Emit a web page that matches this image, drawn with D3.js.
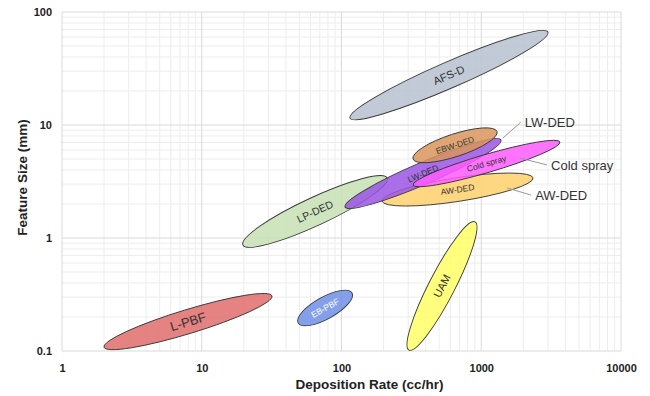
<!DOCTYPE html>
<html>
<head>
<meta charset="utf-8">
<script src="https://cdn.jsdelivr.net/npm/d3@7"></script>
<style>
  body { margin: 0; background: #fff; }
  text { font-family: "Liberation Sans", Arial, sans-serif; }
</style>
</head>
<body>
<div id="chart"></div>
<script>
const W = 650, H = 396;
const margin = { top: 12, right: 29, bottom: 45, left: 62 };

// processes: major-axis tips (deposition rate cc/hr, feature size mm) and half-width in log decades
const names   = ["AFS-D", "L-PBF", "EB-PBF", "UAM", "LP-DED", "AW-DED", "LW-DED", "EBW-DED", "Cold spray"];
const rateLo  = [115,   2.0,   49,    304,   19.7,  195,  106,  325,  325];
const sizeLo  = [11.5,  0.108, 0.177, 0.102, 0.867, 2.12, 1.88, 5.0,  2.94];
const rateHi  = [3000,  31.8,  119,   902,   212,   2346, 1384, 1296, 3660];
const sizeHi  = [66.5,  0.307, 0.326, 1.39,  3.40,  3.40, 7.36, 8.75, 7.07];
const spread  = [0.115, 0.106, 0.097, 0.115, 0.124, 0.105, 0.097, 0.1, 0.08];
const colors  = ["#b6c1cf", "#e06c6c", "#6f8fe6", "#ffff66", "#c6e1b4", "#fdd06c", "#9a55e4", "#d9955c", "#ff5cff"];
const labelSize = [11, 13, 8.5, 11, 10.5, 8.5, 8.5, 8.5, 8.5];
const labelColor = ["#333", "#333", "#fff", "#333", "#333", "#333", "#333", "#333", "#333"];

// call-out labels outside the cluster: [name, anchor rate, anchor size, text rate, text size]
const callouts = [
    ["LW-DED",     1430, 7.67, 2050, 10.6],
    ["Cold spray", 1890, 5.1,  3160, 4.43],
    ["AW-DED",     1530, 2.77, 2430, 2.40]
];

const xTicks = [1, 10, 100, 1000, 10000];
const xTickLabels = ["1", "10", "100", "1000", "10000"];
const yTicks = [0.1, 1, 10, 100];
const yTickLabels = ["0.1", "1", "10", "100"];

const width = W - margin.left - margin.right;
const height = H - margin.top - margin.bottom;

const svg = d3.select("#chart").append("svg")
    .attr("width", W)
    .attr("height", H)
    .append("g")
    .attr("transform", `translate(${margin.left}, ${margin.top})`);

const x = d3.scaleLog().domain([1, 10000]).range([0, width]);
const y = d3.scaleLog().domain([0.1, 100]).range([height, 0]);

// grid
const minorX = x.ticks().filter(v => !xTicks.includes(v));
const minorY = y.ticks().filter(v => !yTicks.includes(v));

svg.selectAll(".gx-minor").data(minorX).enter().append("line")
    .attr("x1", d => x(d)).attr("x2", d => x(d))
    .attr("y1", 0).attr("y2", height)
    .attr("stroke", "#ededed").attr("stroke-width", 1);
svg.selectAll(".gy-minor").data(minorY).enter().append("line")
    .attr("y1", d => y(d)).attr("y2", d => y(d))
    .attr("x1", 0).attr("x2", width)
    .attr("stroke", "#ededed").attr("stroke-width", 1);
svg.selectAll(".gx").data(xTicks).enter().append("line")
    .attr("x1", d => x(d)).attr("x2", d => x(d))
    .attr("y1", 0).attr("y2", height)
    .attr("stroke", "#d9d9d9").attr("stroke-width", 1);
svg.selectAll(".gy").data(yTicks).enter().append("line")
    .attr("y1", d => y(d)).attr("y2", d => y(d))
    .attr("x1", 0).attr("x2", width)
    .attr("stroke", "#d9d9d9").attr("stroke-width", 1);

// axes
const xAxis = svg.append("g")
    .attr("transform", `translate(0, ${height})`)
    .call(d3.axisBottom(x).tickValues(xTicks).tickSize(0).tickPadding(13)
        .tickFormat((d, i) => xTickLabels[i]));
const yAxis = svg.append("g")
    .call(d3.axisLeft(y).tickValues(yTicks).tickSize(0).tickPadding(10)
        .tickFormat((d, i) => yTickLabels[i]));
[xAxis, yAxis].forEach(a => {
    a.select(".domain").remove();
    a.selectAll("text")
        .style("font-family", "'Liberation Sans', Arial, sans-serif")
        .style("font-size", "11px")
        .style("font-weight", "bold")
        .attr("fill", "#222");
});

svg.append("text")
    .attr("x", width / 2 + 28)
    .attr("y", height + 38)
    .attr("text-anchor", "middle")
    .style("font-size", "13.5px")
    .style("font-weight", "bold")
    .attr("fill", "#222")
    .text("Deposition Rate (cc/hr)");

svg.append("text")
    .attr("transform", "rotate(-90)")
    .attr("x", -height / 2 + 4)
    .attr("y", -margin.left + 27)
    .attr("text-anchor", "middle")
    .style("font-size", "13.5px")
    .style("font-weight", "bold")
    .attr("fill", "#222")
    .text("Feature Size (mm)");

// ellipses
const decadePx = y(1) - y(10);
const shapes = names.map((n, i) => {
    const x1 = x(rateLo[i]), y1 = y(sizeLo[i]);
    const x2 = x(rateHi[i]), y2 = y(sizeHi[i]);
    return {
        name: n,
        cx: (x1 + x2) / 2,
        cy: (y1 + y2) / 2,
        rx: Math.hypot(x2 - x1, y2 - y1) / 2,
        ry: spread[i] * decadePx,
        angle: Math.atan2(y2 - y1, x2 - x1) * 180 / Math.PI,
        color: colors[i],
        fs: labelSize[i],
        tc: labelColor[i]
    };
});

svg.selectAll(".blob").data(shapes).enter().append("ellipse")
    .attr("class", "blob")
    .attr("cx", 0).attr("cy", 0)
    .attr("rx", d => d.rx).attr("ry", d => d.ry)
    .attr("transform", d => `translate(${d.cx}, ${d.cy}) rotate(${d.angle})`)
    .attr("fill", d => d.color)
    .attr("fill-opacity", 0.85)
    .attr("stroke", "#3a3a3a")
    .attr("stroke-width", 0.9);

svg.selectAll(".blob-label").data(shapes).enter().append("text")
    .attr("class", "blob-label")
    .attr("transform", d => `translate(${d.cx}, ${d.cy}) rotate(${d.angle})`)
    .attr("text-anchor", "middle")
    .attr("dy", "0.35em")
    .style("font-size", d => d.fs + "px")
    .attr("fill", d => d.tc)
    .text(d => d.name);

// call-outs
svg.selectAll(".leader").data(callouts).enter().append("line")
    .attr("x1", d => x(d[1])).attr("y1", d => y(d[2]))
    .attr("x2", d => x(d[3]) - 4).attr("y2", d => y(d[4]))
    .attr("stroke", "#999").attr("stroke-width", 1);

svg.selectAll(".callout").data(callouts).enter().append("text")
    .attr("x", d => x(d[3]))
    .attr("y", d => y(d[4]))
    .attr("dy", "0.35em")
    .style("font-size", "13px")
    .attr("fill", "#333")
    .text(d => d[0]);
</script>
</body>
</html>
